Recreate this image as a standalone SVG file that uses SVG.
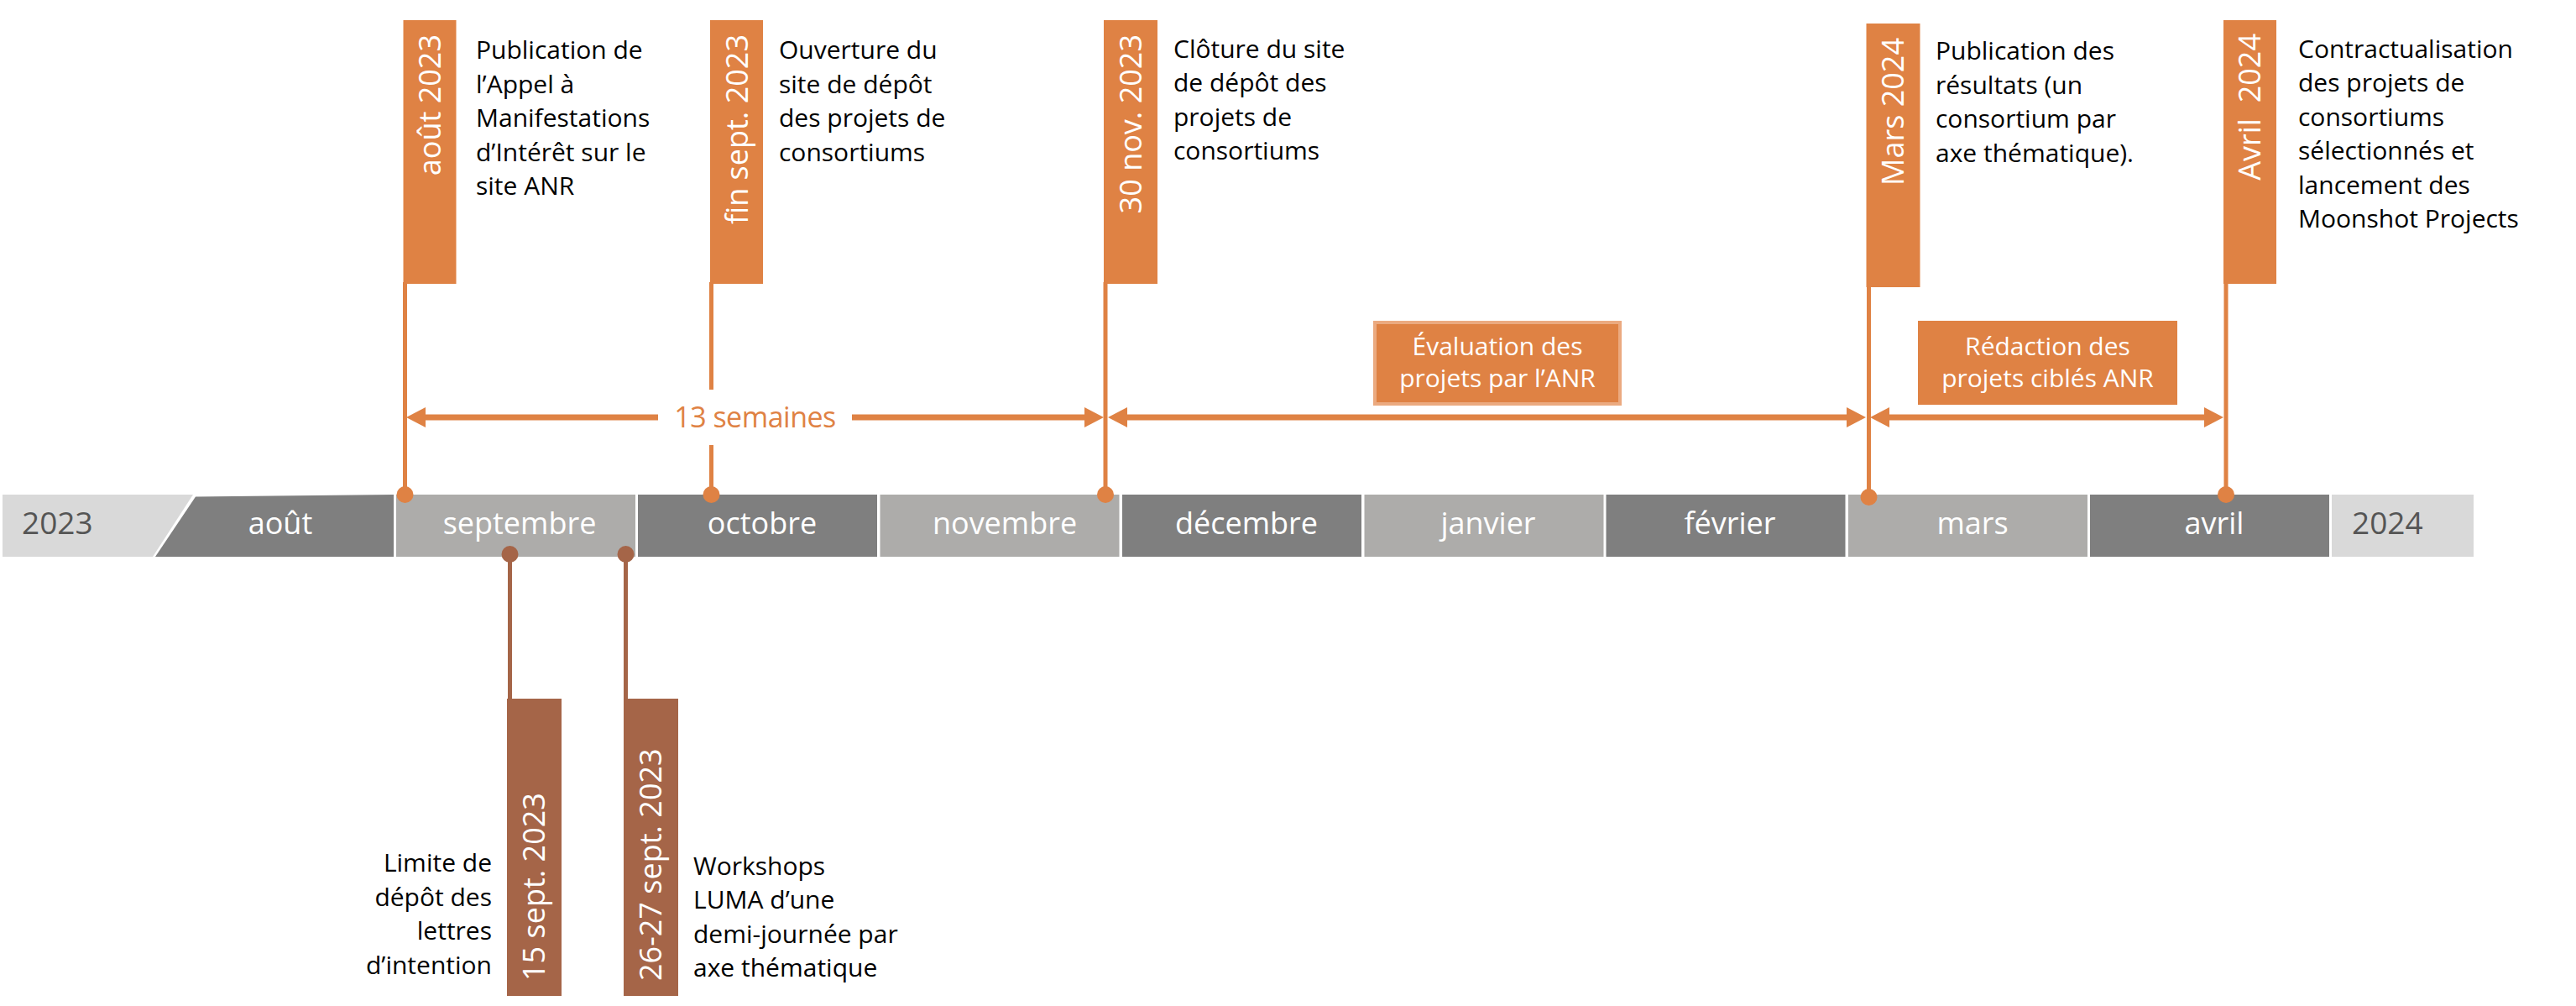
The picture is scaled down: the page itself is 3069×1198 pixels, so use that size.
<svg xmlns="http://www.w3.org/2000/svg" width="3069" height="1198" viewBox="0 0 3069 1198">
<defs>
<style>
text{font-family:"Open Sans","Noto Sans","Liberation Sans",sans-serif;}
.desc{font-size:30px;fill:#000;}
.rot{font-size:36px;fill:#fff;}
.mon{font-size:36px;fill:#fff;text-anchor:middle;}
.yr{font-size:37px;fill:#555;}
.box{font-size:30px;fill:#fff;text-anchor:middle;}
.or{fill:#DF8244;}
.br{fill:#A56548;}
.dk{fill:#7F7F7F;}
.lt{fill:#ADACAA;}
.pl{fill:#D9D9D9;}
.vo{stroke:#DF8244;stroke-width:5;fill:none;}
.vb{stroke:#A56548;stroke-width:5;fill:none;}
.arr{stroke:#DF8244;stroke-width:7;fill:none;marker-start:url(#ah);marker-end:url(#ah);}
.arrS{stroke:#DF8244;stroke-width:7;fill:none;marker-start:url(#ah);}
.arrE{stroke:#DF8244;stroke-width:7;fill:none;marker-end:url(#ah);}
</style>
<marker id="ah" markerUnits="userSpaceOnUse" markerWidth="24" markerHeight="24" refX="2" refY="12" orient="auto-start-reverse" viewBox="0 0 24 24">
<path d="M0,0 L23,12 L0,24 z" fill="#DF8244"/>
</marker>
</defs>

<g id="timeline-bar">
<polygon class="pl" points="3,589 230,589 182,663 3,663"/>
<polygon class="dk" points="233,591.5 469,589 469,663 185,663"/>
<rect class="lt" x="472" y="589" width="285" height="74"/>
<rect class="dk" x="760" y="589" width="285" height="74"/>
<rect class="lt" x="1048.5" y="589" width="285" height="74"/>
<rect class="dk" x="1337" y="589" width="285" height="74"/>
<rect class="lt" x="1625.5" y="589" width="285" height="74"/>
<rect class="dk" x="1913.5" y="589" width="285" height="74"/>
<rect class="lt" x="2202" y="589" width="285" height="74"/>
<rect class="dk" x="2490" y="589" width="285" height="74"/>
<rect class="pl" x="2778" y="589" width="169" height="74"/>
<text class="yr" x="26" y="636">2023</text>
<text class="mon" x="334" y="636">août</text>
<text class="mon" x="619" y="636">septembre</text>
<text class="mon" x="908" y="636">octobre</text>
<text class="mon" x="1197" y="636">novembre</text>
<text class="mon" x="1485" y="636">décembre</text>
<text class="mon" x="1773" y="636">janvier</text>
<text class="mon" x="2061" y="636">février</text>
<text class="mon" x="2350" y="636">mars</text>
<text class="mon" x="2638" y="636">avril</text>
<text class="yr" x="2802" y="636">2024</text>
</g>

<g id="connectors">
<line class="vo" x1="482.5" y1="336" x2="482.5" y2="589"/>
<line class="vo" x1="847.5" y1="336" x2="847.5" y2="464"/>
<line class="vo" x1="847.5" y1="530" x2="847.5" y2="589"/>
<line class="vo" x1="1317" y1="336" x2="1317" y2="589"/>
<line class="vo" x1="2226.5" y1="340" x2="2226.5" y2="592"/>
<line class="vo" x1="2652" y1="336" x2="2652" y2="589"/>
<circle class="or" cx="482.5" cy="589" r="10"/>
<circle class="or" cx="847.5" cy="589" r="10"/>
<circle class="or" cx="1317" cy="589" r="10"/>
<circle class="or" cx="2226.5" cy="592" r="10"/>
<circle class="or" cx="2652" cy="589" r="10"/>
<line class="arrS" x1="505" y1="497" x2="784" y2="497"/>
<line class="arrE" x1="1015" y1="497" x2="1294" y2="497"/>
<line class="arr" x1="1341" y1="497" x2="2202" y2="497"/>
<line class="arr" x1="2249" y1="497" x2="2628" y2="497"/>
<line class="vb" x1="607.5" y1="660" x2="607.5" y2="832"/>
<line class="vb" x1="745.5" y1="660" x2="745.5" y2="832"/>
<circle class="br" cx="607.5" cy="660" r="10"/>
<circle class="br" cx="745.5" cy="660" r="10"/>
<text x="899.5" y="509" text-anchor="middle" style="font-size:34px;fill:#DF8244;letter-spacing:-0.5px">13 semaines</text>
</g>

<g id="m-aout2023">
<rect class="or" x="480.5" y="24" width="63" height="314"/>
<text class="rot" transform="translate(525,41) rotate(-90)" text-anchor="end">août 2023</text>
<text class="desc"><tspan x="567" y="70">Publication de</tspan><tspan x="567" y="110.5">l’Appel à</tspan><tspan x="567" y="151">Manifestations</tspan><tspan x="567" y="191.5">d’Intérêt sur le</tspan><tspan x="567" y="232">site ANR</tspan></text>
</g>

<g id="m-finsept2023">
<rect class="or" x="846" y="24" width="63" height="314"/>
<text class="rot" transform="translate(890.5,41) rotate(-90)" text-anchor="end">fin sept. 2023</text>
<text class="desc"><tspan x="928" y="70">Ouverture du</tspan><tspan x="928" y="110.5">site de dépôt</tspan><tspan x="928" y="151">des projets de</tspan><tspan x="928" y="191.5">consortiums</tspan></text>
</g>

<g id="m-30nov2023">
<rect class="or" x="1315" y="24" width="64" height="314"/>
<text class="rot" transform="translate(1360,41) rotate(-90)" text-anchor="end">30 nov. 2023</text>
<text class="desc"><tspan x="1398" y="68.5">Clôture du site</tspan><tspan x="1398" y="109">de dépôt des</tspan><tspan x="1398" y="149.5">projets de</tspan><tspan x="1398" y="190">consortiums</tspan></text>
</g>

<g id="m-mars2024">
<rect class="or" x="2223.5" y="28" width="64" height="314"/>
<text class="rot" transform="translate(2268,45) rotate(-90)" text-anchor="end">Mars 2024</text>
<text class="desc"><tspan x="2306" y="71">Publication des</tspan><tspan x="2306" y="111.5">résultats (un</tspan><tspan x="2306" y="152">consortium par</tspan><tspan x="2306" y="192.5">axe thématique).</tspan></text>
</g>

<g id="m-avril2024">
<rect class="or" x="2649" y="24" width="63" height="314"/>
<text class="rot" transform="translate(2693,40) rotate(-90)" text-anchor="end" xml:space="preserve">Avril  2024</text>
<text class="desc"><tspan x="2738" y="68.5">Contractualisation</tspan><tspan x="2738" y="109">des projets de</tspan><tspan x="2738" y="149.5">consortiums</tspan><tspan x="2738" y="190">sélectionnés et</tspan><tspan x="2738" y="230.5">lancement des</tspan><tspan x="2738" y="271">Moonshot Projects</tspan></text>
</g>

<g id="p-evaluation">
<rect x="1638" y="384" width="292" height="97" fill="#DF8244" stroke="#EBAA80" stroke-width="4"/>
<text class="box"><tspan x="1784" y="423">Évaluation des</tspan><tspan x="1784" y="461">projets par l’ANR</tspan></text>
</g>

<g id="p-redaction">
<rect class="or" x="2285" y="382" width="309" height="100"/>
<text class="box"><tspan x="2439.5" y="423">Rédaction des</tspan><tspan x="2439.5" y="461">projets ciblés ANR</tspan></text>
</g>

<g id="m-15sept2023">
<rect class="br" x="604" y="832" width="65" height="354"/>
<text class="rot" transform="translate(649,1168) rotate(-90)">15 sept. 2023</text>
<text class="desc" text-anchor="end"><tspan x="586" y="1038">Limite de</tspan><tspan x="586" y="1078.5">dépôt des</tspan><tspan x="586" y="1119">lettres</tspan><tspan x="586" y="1160">d’intention</tspan></text>
</g>

<g id="m-2627sept2023">
<rect class="br" x="743" y="832" width="65" height="354"/>
<text class="rot" transform="translate(788,1168) rotate(-90)">26-27 sept. 2023</text>
<text class="desc"><tspan x="826" y="1042">Workshops</tspan><tspan x="826" y="1082">LUMA d’une</tspan><tspan x="826" y="1123">demi-journée par</tspan><tspan x="826" y="1163">axe thématique</tspan></text>
</g>
</svg>
